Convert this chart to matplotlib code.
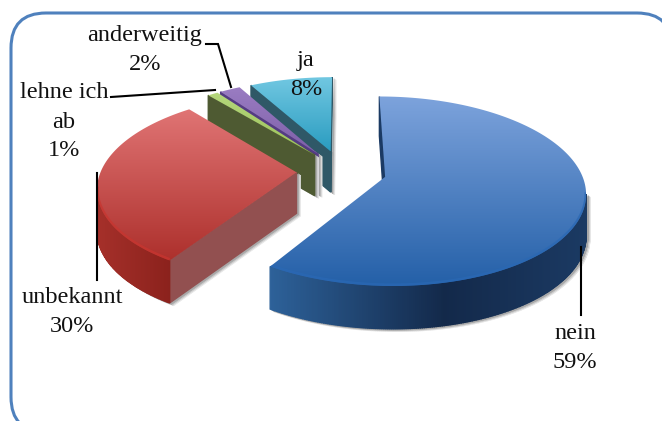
import numpy as np
import matplotlib
matplotlib.use('Agg')
import matplotlib.pyplot as plt
from matplotlib.patches import Polygon, FancyBboxPatch
from matplotlib.colors import to_rgb

# Data
categories = ['nein', 'unbekannt', 'lehne ich\nab', 'anderweitig', 'ja']
values = [59, 30, 1, 2, 8]
explode = [0.23, 0.23, 0.23, 0.23, 0.23]

# top gradient (back, front), rim, wall (left, middle, right), cut face
top_back = ['#7da3dc', '#e07474', '#b5d77c', '#9a7cc2', '#72c8e2']
top_front = ['#2460a8', '#ad302c', '#9bc158', '#7d5fa8', '#2a9cc0']
rim = ['#2a68b4', '#c8352f', '#8fb64f', '#7350a0', '#2a9cc0']
wall_left = ['#2d6199', '#a5302a', '#4e5a32', '#543c82', '#2f5867']
wall_mid = ['#13294a', '#7e1a15', '#4e5a32', '#543c82', '#2f5867']
wall_right = ['#1b3a63', '#7e1a15', '#4e5a32', '#543c82', '#2f5867']
cut_face = ['#1b3a63', '#925050', '#4e5a32', '#543c82', '#2f5867']

# perspective of the pie plane onto the picture
XC, YC, A, B, K, KZ, H = 341.5, 171, 195.6, 90.8, 0.15, 0.04, 41


def project(x, y, z=0.0):
    w = 1 + K * y
    return XC + A * x / w, YC - B * y / w + H * z / (1 + KZ * y)


def mix(c1, c2, t):
    return tuple((1 - t) * a + t * b for a, b in zip(to_rgb(c1), to_rgb(c2)))


fig = plt.figure(figsize=(6.62, 4.21), dpi=100, facecolor='white')
ax = fig.add_axes([0, 0, 1, 1])
ax.set_xlim(0, 662)
ax.set_ylim(421, 0)
ax.axis('off')

# pie gives the wedge geometry, the hidden axes is only used for that
ax_pie = fig.add_axes([0, 0, 1, 1])
wedges, _ = ax_pie.pie(values, explode=explode, startangle=90, counterclock=False, radius=1)
ax_pie.set_visible(False)

frame = FancyBboxPatch((46, 48), 591, 349, boxstyle='round,pad=35,rounding_size=35',
                       fc='white', ec='#4f81bd', lw=2.2, zorder=1)
ax.add_patch(frame)

z = 2
for i in [4, 3, 2, 1, 0]:
    w = wedges[i]
    cx, cy = w.center
    # clockwise: apex, arc from theta2 down to theta1
    th = np.radians(np.linspace(w.theta2, w.theta1, max(int(w.theta2 - w.theta1), 2) * 2))
    xs = np.r_[cx, cx + w.r * np.cos(th)]
    ys = np.r_[cy, cy + w.r * np.sin(th)]
    tx, ty = project(xs, ys, 0)
    bx, by = project(xs, ys, 1)
    n = len(tx)

    # soft shadow, right and below
    for off, grey in [(4, '#e6e6e6'), (3, '#cccccc'), (2, '#a8a8a8')]:
        for j in range(n):
            k = (j + 1) % n
            if tx[k] < tx[j]:
                quad = [(bx[j] + off, by[j] + off * 0.7), (bx[k] + off, by[k] + off * 0.7),
                        (tx[k] + off, ty[k] + off * 0.7), (tx[j] + off, ty[j] + off * 0.7)]
                ax.add_patch(Polygon(quad, fc=grey, ec=grey, lw=0.5, zorder=z))
    z += 1

    # walls, only the ones facing the viewer
    xmin, xmax = tx.min(), tx.max()
    for j in range(n):
        k = (j + 1) % n
        if tx[k] >= tx[j]:
            continue
        quad = [(tx[j], ty[j]), (tx[k], ty[k]), (bx[k], by[k]), (bx[j], by[j])]
        if j == 0 or k == 0:
            col = cut_face[i]
        else:
            t = ((tx[j] + tx[k]) / 2 - xmin) / max(xmax - xmin, 1)
            if t < 0.55:
                col = mix(wall_left[i], wall_mid[i], t / 0.55)
            else:
                col = mix(wall_mid[i], wall_right[i], (t - 0.55) / 0.45)
        ax.add_patch(Polygon(quad, fc=col, ec=col, lw=1.0, zorder=z))
    z += 1

    # top surface with vertical gradient
    grad = np.array([mix(top_back[i], top_front[i], t) for t in np.linspace(0, 1, 128)])[:, None, :]
    im = ax.imshow(grad, extent=(tx.min(), tx.max(), ty.max(), ty.min()), aspect='auto', zorder=z)
    clip = Polygon(np.c_[tx, ty], transform=ax.transData)
    im.set_clip_path(clip)
    z += 1

    # brighter bevel on the front part of the arc
    front = np.r_[False, np.diff(tx[1:]) < 0]
    rim_line, = ax.plot(tx[1:][front], ty[1:][front] - 1, color=rim[i], lw=2.2, alpha=0.75, zorder=z)
    rim_line.set_clip_path(clip)
    z += 1

ax.set_xlim(0, 662)
ax.set_ylim(421, 0)

# leader lines
leaders = [([206, 218, 231], [44, 44, 87]),
           ([111, 215], [97, 90]),
           ([97, 97], [173, 280]),
           ([581, 581], [247, 315])]
for lx, ly in leaders:
    ax.plot(lx, ly, color='black', lw=1.5, zorder=z, solid_joinstyle='miter')

# labels
label_pos = [(575, 348), (72, 312), (64, 122), (145, 50), (306, 75)]
for cat, val, (lx, ly) in zip(categories, values, label_pos):
    ax.text(lx, ly, f'{cat}\n{val}%', ha='center', va='center', family='Liberation Serif',
            fontsize=17.5, linespacing=1.5, color='#111111', zorder=z + 1)

fig.savefig('out.png', dpi=100)
